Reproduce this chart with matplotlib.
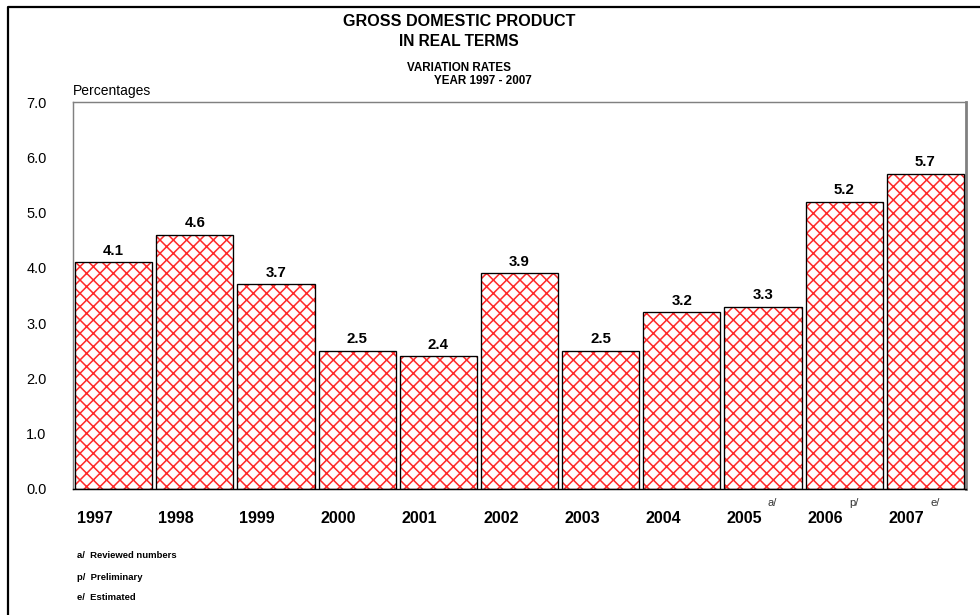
import matplotlib.pyplot as plt
from matplotlib.lines import Line2D

# --- data ---
years = ['1997', '1998', '1999', '2000', '2001', '2002', '2003', '2004', '2005', '2006', '2007']
growth = [4.1, 4.6, 3.7, 2.5, 2.4, 3.9, 2.5, 3.2, 3.3, 5.2, 5.7]
year_notes = ['', '', '', '', '', '', '', '', 'a/', 'p/', 'e/']
footnotes = ['a/  Reviewed numbers', 'p/  Preliminary', 'e/  Estimated']
y_ticks = [0, 1, 2, 3, 4, 5, 6, 7]

# --- style ---
W, H, DPI = 980, 615, 80
plt.rcParams['font.family'] = ['Liberation Sans', 'DejaVu Sans']
plt.rcParams['hatch.linewidth'] = 1.4
frame_gray = '#808080'

fig = plt.figure(figsize=(W / DPI, H / DPI), dpi=DPI)
fig.patch.set_facecolor('white')

def fx(px):
    return px / W

def fy(py):
    return 1 - py / H

# axes placed in pixel terms
ax_l, ax_r, ax_t, ax_b = 73, 966, 102, 489
ax = fig.add_axes([fx(ax_l), fy(ax_b), (ax_r - ax_l) / W, (ax_b - ax_t) / H])

x = list(range(len(years)))
# hatched fill (red) and black outline drawn separately
ax.bar(x, growth, width=0.95, facecolor='white', edgecolor='#ff2a2a', hatch='xx', linewidth=0, zorder=2)
ax.bar(x, growth, width=0.95, fill=False, edgecolor='black', linewidth=1.2, zorder=3)

for xi, v in zip(x, growth):
    ax.annotate(f'{v:.1f}', (xi, v), xytext=(0, 4), textcoords='offset points',
                ha='center', va='bottom', fontsize=13.5, fontweight='bold')

ax.set_xlim(-0.5, len(years) - 0.5)
ax.set_ylim(0, 7)
ax.set_yticks(y_ticks)
ax.set_yticklabels([f'{t:.1f}' for t in y_ticks])
ax.set_xticks([])
ax.tick_params(axis='y', length=0, pad=24, labelsize=13)

for side in ['top', 'left', 'right']:
    ax.spines[side].set_color(frame_gray)
    ax.spines[side].set_linewidth(1.3)
ax.spines['right'].set_linewidth(2.5)
ax.spines['bottom'].set_color('black')
ax.spines['bottom'].set_linewidth(1.3)

# year labels, shifted left of bar centre, with superscript notes
trans = ax.get_xaxis_transform()
for xi, yr, note in zip(x, years, year_notes):
    ax.text(xi - 0.23, -0.075, yr, transform=trans, ha='center', va='center',
            fontsize=14.5, fontweight='bold', clip_on=False)
    if note:
        ax.text(xi + 0.06, -0.037, note, transform=trans, ha='left', va='center',
                fontsize=10, color='#333333', clip_on=False)

# titles
fig.text(fx(459), fy(22), 'GROSS DOMESTIC PRODUCT', ha='center', va='center', fontsize=14.5, fontweight='bold')
fig.text(fx(459), fy(41), 'IN REAL TERMS', ha='center', va='center', fontsize=14, fontweight='bold')
fig.text(fx(459), fy(68), 'VARIATION RATES', ha='center', va='center', fontsize=10.5, fontweight='bold')
fig.text(fx(483), fy(81), 'YEAR 1997 - 2007', ha='center', va='center', fontsize=10.5, fontweight='bold')
fig.text(fx(73), fy(91), 'Percentages', ha='left', va='center', fontsize=12.5)

# footnotes
for note, py in zip(footnotes, [555, 577, 598]):
    fig.text(fx(77), fy(py), note, ha='left', va='center', fontsize=8.5, fontweight='bold')

# outer frame (runs off right and bottom)
fig.add_artist(Line2D([fx(8), fx(8), fx(980)], [fy(615), fy(7), fy(7)],
                      transform=fig.transFigure, color='black', linewidth=2))

plt.savefig('out.png', dpi=DPI)
